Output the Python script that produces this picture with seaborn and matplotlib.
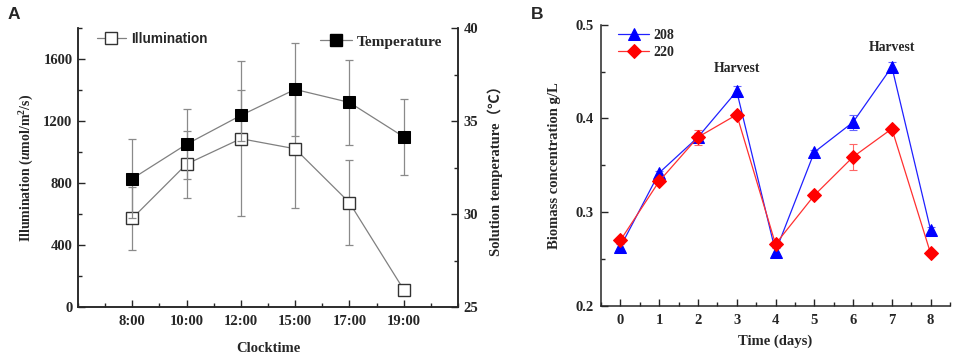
import numpy as np
import pandas as pd
import matplotlib
matplotlib.use('Agg')
import matplotlib.pyplot as plt
from matplotlib.ticker import MultipleLocator
from matplotlib.lines import Line2D
import seaborn as sns

# panel A data
clock = ['8:00', '10:00', '12:00', '15:00', '17:00', '19:00']
illum = [572, 922, 1086, 1021, 674, 113]
illum_err = [205, 216, 499, 380, 272, 0]
temp = [31.9, 33.75, 35.3, 36.7, 36.0, 34.15]
temp_err = [2.14, 1.89, 1.36, 2.48, 2.30, 2.03]

# panel B data
days = [0, 1, 2, 3, 4, 5, 6, 7, 8]
b208 = [0.263, 0.342, 0.380, 0.429, 0.258, 0.364, 0.396, 0.455, 0.281]
b208_err = [0.003, 0.002, 0.004, 0.006, 0.004, 0.002, 0.008, 0.005, 0.003]
b220 = [0.270, 0.333, 0.380, 0.404, 0.266, 0.318, 0.359, 0.389, 0.256]
b220_err = [0.002, 0.002, 0.008, 0.002, 0.003, 0.002, 0.014, 0.002, 0.002]

sns.set_style('ticks')
plt.rcParams['font.family'] = ['Liberation Serif', 'Noto Sans CJK SC', 'DejaVu Sans']
plt.rcParams['font.weight'] = 'bold'
plt.rcParams['axes.labelweight'] = 'bold'
plt.rcParams['mathtext.fontset'] = 'custom'
plt.rcParams['mathtext.rm'] = 'Liberation Serif:bold'
plt.rcParams['mathtext.it'] = 'Liberation Serif:italic:bold'

fig = plt.figure(figsize=(9.57, 3.57), dpi=100)
axA = fig.add_axes([0.0815, 0.140, 0.397, 0.7815])
axB = fig.add_axes([0.628, 0.1429, 0.3647, 0.788])

df_a = pd.DataFrame({'pos': np.arange(len(clock)), 'illum': illum, 'temp': temp})

def style_axis(ax):
    ax.tick_params(which='both', direction='in', labelsize=10.5, width=1)
    ax.tick_params(which='major', length=5)
    ax.tick_params(which='minor', length=3)
    for s in ax.spines.values():
        s.set_linewidth(1.1)
    for lab in ax.get_xticklabels() + ax.get_yticklabels():
        lab.set_fontweight('bold')

# ---- panel A ----
axT = axA.twinx()
axA.errorbar(df_a['pos'], df_a['illum'], yerr=illum_err, fmt='none', ecolor='#8a8a8a',
             elinewidth=0.9, capsize=3, capthick=0.9, zorder=1)
sns.lineplot(data=df_a, x='pos', y='illum', ax=axA, color='#808080', linewidth=0.9,
             marker='s', markersize=9, markerfacecolor='white', markeredgecolor='#333333',
             markeredgewidth=1, zorder=3)
axT.errorbar(df_a['pos'], df_a['temp'], yerr=temp_err, fmt='none', ecolor='#8a8a8a',
             elinewidth=0.9, capsize=3, capthick=0.9, zorder=1)
sns.lineplot(data=df_a, x='pos', y='temp', ax=axT, color='#808080', linewidth=0.9,
             marker='s', markersize=9, markerfacecolor='black', markeredgecolor='black',
             zorder=3)

axA.set_xlim(-1, 6)
axA.set_ylim(0, 1800)
axT.set_ylim(25, 40)
axA.set_xticks(df_a['pos'])
axA.set_xticklabels(clock)
axA.xaxis.set_minor_locator(MultipleLocator(0.5))
axA.yaxis.set_major_locator(MultipleLocator(400))
axA.yaxis.set_minor_locator(MultipleLocator(200))
axT.yaxis.set_major_locator(MultipleLocator(5))
axT.yaxis.set_minor_locator(MultipleLocator(2.5))
axA.spines['top'].set_visible(False)
axT.spines['top'].set_visible(False)
style_axis(axA)
style_axis(axT)
axA.tick_params(axis='y', pad=4)
axA.tick_params(axis='x', pad=6)
axT.tick_params(axis='y', pad=4)

axA.set_xlabel('Clocktime', fontsize=10.5, fontweight='bold', labelpad=10)
axA.set_ylabel(r'Illumination ($\mathit{u}$mol/m$^2$/s)', fontsize=10, fontweight='bold', labelpad=5)
axT.set_ylabel('Solution temperature（℃）', fontsize=10.5, fontweight='bold', labelpad=7)

h_ill = Line2D([], [], color='#808080', linewidth=0.9, marker='s', markersize=9,
               markerfacecolor='white', markeredgecolor='#333333')
h_tmp = Line2D([], [], color='#808080', linewidth=0.9, marker='s', markersize=9,
               markerfacecolor='black', markeredgecolor='black')
leg1 = axA.legend([h_ill], ['Illumination'], loc='center left', bbox_to_anchor=(0.05, 0.96),
                  frameon=False, borderpad=0, borderaxespad=0, handlelength=2.1,
                  handletextpad=0.4, prop={'family': 'Liberation Sans', 'weight': 'bold', 'size': 9.8})
axT.legend([h_tmp], ['Temperature'], loc='center left', bbox_to_anchor=(0.637, 0.95),
           frameon=False, borderpad=0, borderaxespad=0, handlelength=2.1,
           handletextpad=0.3, prop={'family': 'Liberation Serif', 'weight': 'bold', 'size': 11.1})

# ---- panel B ----
df_b = pd.DataFrame({'day': days, '208': b208, '220': b220})
axB.errorbar(days, b208, yerr=b208_err, fmt='none', ecolor='#6666ff', elinewidth=0.8,
             capsize=3, capthick=0.8, zorder=1)
axB.errorbar(days, b220, yerr=b220_err, fmt='none', ecolor='#ff6666', elinewidth=0.8,
             capsize=3, capthick=0.8, zorder=1)
sns.lineplot(data=df_b, x='day', y='208', ax=axB, color='#2020ff', linewidth=0.9,
             marker='^', markersize=8, markerfacecolor='#0000ff', markeredgecolor='#0000ff',
             label='208', zorder=3)
sns.lineplot(data=df_b, x='day', y='220', ax=axB, color='#ff3030', linewidth=0.9,
             marker='D', markersize=7, markerfacecolor='#ff0000', markeredgecolor='#ff0000',
             label='220', zorder=3)
axB.set_xlim(-0.5, 8.5)
axB.set_ylim(0.2, 0.5)
axB.set_xticks(days)
axB.xaxis.set_minor_locator(MultipleLocator(0.5))
axB.yaxis.set_major_locator(MultipleLocator(0.1))
axB.yaxis.set_minor_locator(MultipleLocator(0.05))
axB.spines['top'].set_visible(False)
axB.spines['right'].set_visible(False)
style_axis(axB)
axB.tick_params(axis='y', pad=5)
axB.tick_params(axis='x', pad=6)
axB.set_xlabel('Time (days)', fontsize=10.5, fontweight='bold', labelpad=5)
axB.set_ylabel('Biomass concentration g/L', fontsize=10.5, fontweight='bold', labelpad=11)
axB.legend(loc='center left', bbox_to_anchor=(0.05, 0.932), frameon=False, borderpad=0,
           borderaxespad=0, handlelength=2.2, handletextpad=0.3, labelspacing=0.25,
           prop={'weight': 'bold', 'size': 10})
axB.text(3, 0.4536, 'Harvest', ha='center', va='center', fontsize=9.8, fontweight='bold')
axB.text(7, 0.476, 'Harvest', ha='center', va='center', fontsize=9.8, fontweight='bold')

fig.text(0.008, 0.96, 'A', fontsize=12.5, fontweight='bold', family='Liberation Sans', va='center')
fig.text(0.555, 0.96, 'B', fontsize=12.5, fontweight='bold', family='Liberation Sans', va='center')

fig.savefig('out.png', dpi=100)
